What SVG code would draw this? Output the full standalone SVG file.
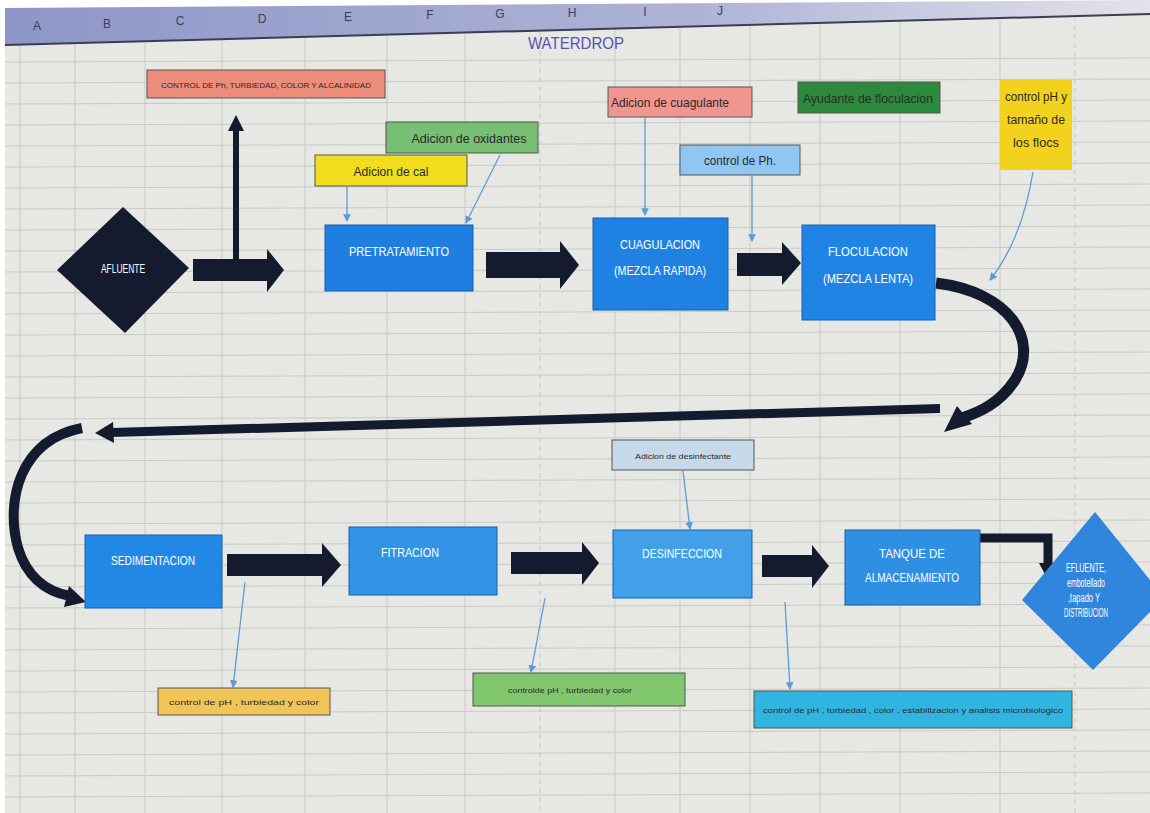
<svg xmlns="http://www.w3.org/2000/svg" width="1150" height="813" viewBox="0 0 1150 813">
  <defs>
    <style>
      .grid line { stroke: #c9c9c6; stroke-width: 1; }
      .hdr { font-family: "Liberation Sans Narrow", "Liberation Sans", sans-serif; font-size: 12px; fill: #3c3f5a; text-anchor: middle; }
      .box { stroke: #1a5fb0; stroke-width: 1; }
      .btxt { font-family: "Liberation Sans Narrow", "Liberation Sans", sans-serif; font-size: 12px; fill: #ffffff; text-anchor: middle; }
      .lbl { stroke: #555; stroke-width: 1; }
      .ltxt { font-family: "Liberation Sans Narrow", "Liberation Sans", sans-serif; font-size: 12px; fill: #2a2a2a; text-anchor: middle; }
      .small { font-size: 8px; }
      .thick { fill: #151b2f; }
      .thin { stroke: #5b9bd8; stroke-width: 1.3; fill: none; marker-end: url(#tip); }
      .curve { stroke: #151b2f; fill: none; stroke-linecap: butt; }
    </style>
    <marker id="tip" viewBox="0 0 8 8" refX="7" refY="4" markerWidth="6" markerHeight="6" orient="auto">
      <path d="M0,0 L8,4 L0,8 Z" fill="#5b9bd8"/>
    </marker>
    <linearGradient id="hdrGrad" x1="0" y1="0" x2="1" y2="0">
      <stop offset="0" stop-color="#8d96c6"/>
      <stop offset="0.6" stop-color="#aeb3d6"/>
      <stop offset="1" stop-color="#e2e3ea"/>
    </linearGradient>
  </defs>

  <!-- sheet background -->
  <rect x="0" y="0" width="1150" height="813" fill="#ffffff"/>
  <rect x="5" y="8" width="1145" height="805" fill="#e7e7e3"/>

  <!-- cell grid -->
  <g class="grid">
    <line x1="5" y1="62" x2="1150" y2="58"/>
    <line x1="5" y1="83" x2="1150" y2="79"/>
    <line x1="5" y1="104" x2="1150" y2="100"/>
    <line x1="5" y1="125" x2="1150" y2="121"/>
    <line x1="5" y1="146" x2="1150" y2="142"/>
    <line x1="5" y1="167" x2="1150" y2="163"/>
    <line x1="5" y1="188" x2="1150" y2="184"/>
    <line x1="5" y1="209" x2="1150" y2="205"/>
    <line x1="5" y1="230" x2="1150" y2="226"/>
    <line x1="5" y1="251" x2="1150" y2="247"/>
    <line x1="5" y1="272" x2="1150" y2="268"/>
    <line x1="5" y1="293" x2="1150" y2="289"/>
    <line x1="5" y1="314" x2="1150" y2="310"/>
    <line x1="5" y1="335" x2="1150" y2="331"/>
    <line x1="5" y1="356" x2="1150" y2="352"/>
    <line x1="5" y1="377" x2="1150" y2="373"/>
    <line x1="5" y1="398" x2="1150" y2="394"/>
    <line x1="5" y1="419" x2="1150" y2="415"/>
    <line x1="5" y1="440" x2="1150" y2="436"/>
    <line x1="5" y1="461" x2="1150" y2="457"/>
    <line x1="5" y1="482" x2="1150" y2="478"/>
    <line x1="5" y1="503" x2="1150" y2="499"/>
    <line x1="5" y1="524" x2="1150" y2="520"/>
    <line x1="5" y1="545" x2="1150" y2="541"/>
    <line x1="5" y1="566" x2="1150" y2="562"/>
    <line x1="5" y1="587" x2="1150" y2="583"/>
    <line x1="5" y1="608" x2="1150" y2="604"/>
    <line x1="5" y1="629" x2="1150" y2="625"/>
    <line x1="5" y1="650" x2="1150" y2="646"/>
    <line x1="5" y1="671" x2="1150" y2="667"/>
    <line x1="5" y1="692" x2="1150" y2="688"/>
    <line x1="5" y1="713" x2="1150" y2="709"/>
    <line x1="5" y1="734" x2="1150" y2="730"/>
    <line x1="5" y1="755" x2="1150" y2="751"/>
    <line x1="5" y1="776" x2="1150" y2="772"/>
    <line x1="5" y1="797" x2="1150" y2="793"/>
    <line x1="20" y1="45" x2="20" y2="813"/>
    <line x1="75" y1="45" x2="75" y2="813"/>
    <line x1="145" y1="42" x2="145" y2="813"/>
    <line x1="222" y1="40" x2="222" y2="813"/>
    <line x1="305" y1="38" x2="305" y2="813"/>
    <line x1="387" y1="36" x2="387" y2="813"/>
    <line x1="465" y1="34" x2="465" y2="813"/>
    <line x1="615" y1="30" x2="615" y2="813"/>
    <line x1="680" y1="28" x2="680" y2="813"/>
    <line x1="750" y1="26" x2="750" y2="813"/>
    <line x1="820" y1="24" x2="820" y2="813"/>
    <line x1="900" y1="22" x2="900" y2="813"/>
    <line x1="1000" y1="18" x2="1000" y2="813"/>
    <line x1="540" y1="32" x2="540" y2="813" stroke="#8a8a8a" stroke-dasharray="5 4"/>
    <line x1="1075" y1="16" x2="1075" y2="813" stroke="#8a8a8a" stroke-dasharray="5 4"/>
  </g>

  <!-- column header strip -->
  <polygon points="5,8 1150,0 1150,14 5,45" fill="url(#hdrGrad)"/>
  <line x1="5" y1="45" x2="1150" y2="14" stroke="#3a3d55" stroke-width="2"/>
  <g class="hdr">
    <text x="37" y="30">A</text>
    <text x="107" y="28">B</text>
    <text x="180" y="25">C</text>
    <text x="262" y="23">D</text>
    <text x="348" y="21">E</text>
    <text x="430" y="19">F</text>
    <text x="500" y="18">G</text>
    <text x="572" y="17">H</text>
    <text x="645" y="16">I</text>
    <text x="720" y="15">J</text>
  </g>

  <!-- title -->
  <text x="576" y="49" font-family="Liberation Sans Narrow, Liberation Sans, sans-serif" font-size="17" fill="#5a4fb8" text-anchor="middle" textLength="96" lengthAdjust="spacingAndGlyphs">WATERDROP</text>

  <!-- connectors -->
  <g id="connectors">
    <!-- main block arrows -->
    <path class="thick" d="M193,259 L267,259 L267,249 L284,270 L267,292 L267,281 L193,281 Z"/>
    <path class="thick" d="M486,252 L560,252 L560,241 L579,265 L560,289 L560,278 L486,278 Z"/>
    <path class="thick" d="M737,253 L782,253 L782,242 L801,263 L782,285 L782,276 L737,276 Z"/>
    <path class="thick" d="M227,554 L322,554 L322,543 L341,565 L322,587 L322,576 L227,576 Z"/>
    <path class="thick" d="M511,552 L582,552 L582,542 L599,563 L582,585 L582,574 L511,574 Z"/>
    <path class="thick" d="M762,555 L812,555 L812,545 L829,566 L812,588 L812,577 L762,577 Z"/>

    <!-- upward arrow to control label -->
    <rect class="thick" x="233" y="128" width="6" height="131"/>
    <polygon class="thick" points="236,115 228,131 244,131"/>

    <!-- return curve on the right -->
    <path class="curve" d="M936,283 C1010,292 1040,340 1015,380 C1000,403 980,412 962,418" stroke-width="11"/>
    <polygon class="thick" points="944,432 957,406 972,424"/>

    <!-- long return arrow -->
    <polygon class="thick" points="940,404 940,413 112,437 112,428"/>
    <polygon class="thick" points="95,433 113,422 114,443"/>

    <!-- left curve down to sedimentation -->
    <path class="curve" d="M82,428 C20,440 5,500 18,548 C28,580 48,592 70,596" stroke-width="10"/>
    <polygon class="thick" points="86,602 64,607 69,586"/>

    <!-- elbow arrow to the outlet -->
    <path class="curve" d="M980,538 L1048,538 L1048,566" stroke-width="9"/>
    <polygon class="thick" points="1048,580 1039,563 1057,563"/>

    <!-- thin dosing / control links -->
    <line class="thin" x1="347" y1="187" x2="347" y2="221"/>
    <line class="thin" x1="500" y1="155" x2="466" y2="223"/>
    <line class="thin" x1="645" y1="118" x2="645" y2="215"/>
    <line class="thin" x1="752" y1="176" x2="752" y2="241"/>
    <path class="thin" d="M1033,172 C1025,220 1010,255 990,280"/>
    <line class="thin" x1="683" y1="471" x2="690" y2="529"/>
    <line class="thin" x1="245" y1="582" x2="233" y2="687"/>
    <line class="thin" x1="545" y1="598" x2="531" y2="672"/>
    <line class="thin" x1="785" y1="602" x2="790" y2="689"/>
  </g>

  <!-- inlet -->
  <g id="afluente">
    <polygon points="123,207 189,268 125,333 57,270" fill="#151b2f"/>
    <text x="123" y="273" class="btxt" font-size="11" textLength="44" lengthAdjust="spacingAndGlyphs">AFLUENTE</text>
  </g>

  <g id="control-inicial">
    <rect class="lbl" x="147" y="70" width="238" height="28" fill="#ee8c7c"/>
    <text x="266" y="88" class="ltxt small" textLength="210" lengthAdjust="spacingAndGlyphs">CONTROL DE Ph, TURBIEDAD, COLOR Y ALCALINIDAD</text>
  </g>

  <g id="adicion-oxidantes">
    <rect class="lbl" x="386" y="122" width="152" height="31" fill="#77bf73"/>
    <text x="469" y="143" class="ltxt" textLength="115" lengthAdjust="spacingAndGlyphs">Adicion de oxidantes</text>
  </g>

  <g id="adicion-cal">
    <rect class="lbl" x="315" y="155" width="152" height="31" fill="#f0de1e"/>
    <text x="391" y="176" class="ltxt" textLength="75" lengthAdjust="spacingAndGlyphs">Adicion de cal</text>
  </g>

  <g id="pretratamiento">
    <rect class="box" x="325" y="225" width="148" height="66" fill="#1f7fe0"/>
    <text x="399" y="256" class="btxt" textLength="100" lengthAdjust="spacingAndGlyphs">PRETRATAMIENTO</text>
  </g>

  <g id="adicion-cuagulante">
    <rect class="lbl" x="608" y="87" width="144" height="30" fill="#f09590"/>
    <text x="670" y="107" class="ltxt" textLength="118" lengthAdjust="spacingAndGlyphs">Adicion de cuagulante</text>
  </g>

  <g id="control-ph">
    <rect class="lbl" x="680" y="145" width="120" height="30" fill="#8fc6f2"/>
    <text x="740" y="165" class="ltxt" textLength="72" lengthAdjust="spacingAndGlyphs">control de Ph.</text>
  </g>

  <g id="cuagulacion">
    <rect class="box" x="593" y="218" width="135" height="92" fill="#1f82e2"/>
    <text x="660" y="249" class="btxt" textLength="80" lengthAdjust="spacingAndGlyphs">CUAGULACION</text>
    <text x="660" y="275" class="btxt" textLength="92" lengthAdjust="spacingAndGlyphs">(MEZCLA RAPIDA)</text>
  </g>

  <g id="ayudante-floculacion">
    <rect class="lbl" x="798" y="82" width="142" height="31" fill="#2c8a3c"/>
    <text x="868" y="103" class="ltxt" textLength="130" lengthAdjust="spacingAndGlyphs">Ayudante de floculacion</text>
  </g>

  <g id="control-flocs">
    <rect x="1000" y="80" width="72" height="90" fill="#f2d21c"/>
    <text x="1036" y="101" class="ltxt" textLength="62" lengthAdjust="spacingAndGlyphs">control pH y</text>
    <text x="1036" y="124" class="ltxt" textLength="58" lengthAdjust="spacingAndGlyphs">tamaño de</text>
    <text x="1036" y="147" class="ltxt" textLength="46" lengthAdjust="spacingAndGlyphs">los flocs</text>
  </g>

  <g id="floculacion">
    <rect class="box" x="802" y="225" width="133" height="95" fill="#1f84e4"/>
    <text x="868" y="256" class="btxt" textLength="80" lengthAdjust="spacingAndGlyphs">FLOCULACION</text>
    <text x="868" y="283" class="btxt" textLength="90" lengthAdjust="spacingAndGlyphs">(MEZCLA LENTA)</text>
  </g>

  <g id="sedimentacion">
    <rect class="box" x="85" y="535" width="137" height="73" fill="#2288e6"/>
    <text x="153" y="565" class="btxt" textLength="84" lengthAdjust="spacingAndGlyphs">SEDIMENTACION</text>
  </g>

  <g id="filtracion">
    <rect class="box" x="349" y="527" width="148" height="68" fill="#3194e4"/>
    <text x="410" y="557" class="btxt" textLength="58" lengthAdjust="spacingAndGlyphs">FITRACION</text>
  </g>

  <g id="adicion-desinfectante">
    <rect class="lbl" x="612" y="440" width="142" height="30" fill="#c6d9e8"/>
    <text x="683" y="459" class="ltxt small" fill="#33405a" textLength="96" lengthAdjust="spacingAndGlyphs">Adicion de desinfectante</text>
  </g>

  <g id="desinfeccion">
    <rect class="box" x="613" y="530" width="139" height="68" fill="#41a0e8"/>
    <text x="682" y="558" class="btxt" textLength="80" lengthAdjust="spacingAndGlyphs">DESINFECCION</text>
  </g>

  <g id="tanque">
    <rect class="box" x="845" y="530" width="135" height="75" fill="#2f8fe2"/>
    <text x="912" y="558" class="btxt" textLength="66" lengthAdjust="spacingAndGlyphs">TANQUE DE</text>
    <text x="912" y="582" class="btxt" textLength="94" lengthAdjust="spacingAndGlyphs">ALMACENAMIENTO</text>
  </g>

  <g id="efluente">
    <polygon points="1095,512 1150,580 1150,612 1093,670 1022,600" fill="#2f86dc"/>
    <text x="1086" y="572" class="btxt" font-size="9" textLength="40" lengthAdjust="spacingAndGlyphs">EFLUENTE,</text>
    <text x="1086" y="587" class="btxt" font-size="9" textLength="38" lengthAdjust="spacingAndGlyphs">embotellado</text>
    <text x="1084" y="602" class="btxt" font-size="9" textLength="32" lengthAdjust="spacingAndGlyphs">,tapado Y</text>
    <text x="1086" y="617" class="btxt" font-size="9" textLength="44" lengthAdjust="spacingAndGlyphs">DISTRIBUCION</text>
  </g>

  <g id="control-sedimentacion">
    <rect class="lbl" x="158" y="688" width="172" height="27" fill="#f1c458"/>
    <text x="244" y="705" class="ltxt small" fill="#8a7440" textLength="150" lengthAdjust="spacingAndGlyphs">control de pH , turbiedad y color</text>
  </g>

  <g id="control-filtracion">
    <rect class="lbl" x="473" y="673" width="212" height="33" fill="#80c66c"/>
    <text x="570" y="693" class="ltxt small" fill="#3a5a3a" textLength="124" lengthAdjust="spacingAndGlyphs">controlde pH , turbiedad y color</text>
  </g>

  <g id="control-final">
    <rect class="lbl" x="754" y="691" width="318" height="37" fill="#2fb5e0"/>
    <text x="913" y="713" class="ltxt small" fill="#1f4f7a" textLength="300" lengthAdjust="spacingAndGlyphs">control de pH , turbiedad , color , estabilizacion y analisis microbiologico</text>
  </g>
</svg>
